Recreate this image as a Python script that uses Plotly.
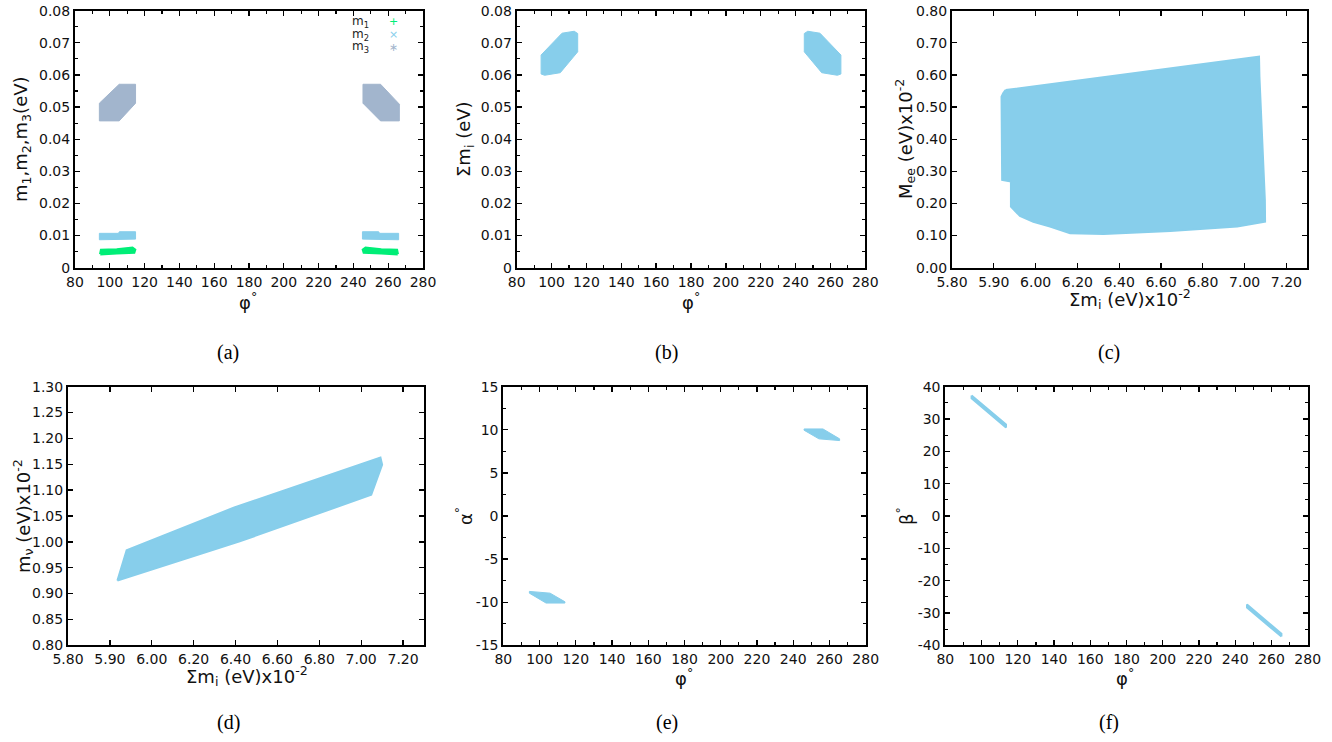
import plotly.graph_objects as go

W, H = 1332, 742

# ---------------- data (region outlines) ----------------
# (a) masses vs phi
phi_m1_left = [94.5, 95.0, 104.0, 113.0, 114.5, 114.0, 104.0, 95.0]
m1_left = [0.0042, 0.0055, 0.0057, 0.0062, 0.0056, 0.0047, 0.0045, 0.0040]
phi_m1_right = [265.5, 265.0, 256.0, 247.0, 245.5, 246.0, 256.0, 265.0]
m1_right = [0.0042, 0.0055, 0.0057, 0.0062, 0.0056, 0.0047, 0.0045, 0.0040]

phi_m2_left = [94.0, 94.0, 105.0, 105.5, 114.8, 114.8]
m2_left = [0.0087, 0.0107, 0.0107, 0.0112, 0.0112, 0.0089]
phi_m2_right = [266.0, 266.0, 255.0, 254.5, 245.2, 245.2]
m2_right = [0.0087, 0.0107, 0.0107, 0.0112, 0.0112, 0.0089]

phi_m3_left = [94.0, 94.0, 105.4, 114.8, 114.8, 105.4]
m3_left = [0.0457, 0.0512, 0.0571, 0.0571, 0.0512, 0.0457]
phi_m3_right = [245.5, 245.5, 255.6, 266.4, 266.4, 255.6]
m3_right = [0.0512, 0.0571, 0.0571, 0.0509, 0.0457, 0.0457]

# (b) sum of masses vs phi
phi_sum_left = [94.0, 94.0, 106.0, 113.0, 115.0, 115.0, 105.0, 96.0]
sum_left = [0.0603, 0.0662, 0.0730, 0.0736, 0.0729, 0.0672, 0.0607, 0.0599]
phi_sum_right = [266.0, 266.0, 254.0, 247.0, 245.0, 245.0, 255.0, 264.0]
sum_right = [0.0603, 0.0662, 0.0730, 0.0736, 0.0729, 0.0672, 0.0607, 0.0599]

# (c) Mee vs sum (x on the axis' own linear scale)
sum_c = [5.856, 7.069, 7.071, 7.076, 7.085, 7.092, 7.097, 7.098,
         6.965, 6.645, 6.325, 6.165, 6.069, 5.989, 5.925, 5.882,
         5.882, 5.840, 5.837, 5.845]
mee_c = [0.553, 0.657, 0.595, 0.522, 0.418, 0.314, 0.211, 0.143,
         0.128, 0.114, 0.105, 0.107, 0.128, 0.143, 0.161, 0.190,
         0.268, 0.273, 0.532, 0.543]

# (d) m_nu vs sum
sum_d = [5.836, 5.880, 6.391, 7.092, 7.100, 7.048, 6.420, 5.836]
mnu_d = [0.925, 0.984, 1.066, 1.163, 1.149, 1.091, 1.001, 0.925]

# (e) alpha vs phi
phi_alpha_left = [94.4, 105.8, 114.0, 114.0, 103.6, 94.4]
alpha_left = [-8.75, -8.95, -9.95, -10.1, -10.1, -8.95]
phi_alpha_right = [265.6, 254.2, 246.0, 246.0, 256.4, 265.6]
alpha_right = [8.75, 8.95, 9.95, 10.1, 10.1, 8.95]

# (f) beta vs phi
phi_beta_left = [94.5, 113.5, 113.5, 94.5]
beta_left = [37.3, 28.3, 27.4, 36.4]
phi_beta_right = [265.5, 246.5, 246.5, 265.5]
beta_right = [-37.3, -28.3, -27.4, -36.4]

# tick labels
phi_ticks = list(range(80, 281, 20))
mass_ticks = [0, 0.01, 0.02, 0.03, 0.04, 0.05, 0.06, 0.07, 0.08]
mass_ticktext = ["0", "0.01", "0.02", "0.03", "0.04", "0.05", "0.06", "0.07", "0.08"]
sum_tickvals = [5.6, 5.8, 6.0, 6.2, 6.4, 6.6, 6.8, 7.0, 7.2]
sum_ticktext = ["5.80", "5.90", "6.00", "6.20", "6.40", "6.60", "6.80", "7.00", "7.20"]
mee_ticks = [0.0, 0.1, 0.2, 0.3, 0.4, 0.5, 0.6, 0.7, 0.8]
mnu_ticks = [0.80, 0.85, 0.90, 0.95, 1.00, 1.05, 1.10, 1.15, 1.20, 1.25, 1.30]
alpha_ticks = [-15, -10, -5, 0, 5, 10, 15]
alpha_ticktext = ["-15", "-10", "-5", "0", "5", "10", "15"]
beta_ticks = [-40, -30, -20, -10, 0, 10, 20, 30, 40]
beta_ticktext = ["-40", "-30", "-20", "-10", "0", "10", "20", "30", "40"]

C_M1 = "#00ee77"
C_SKY = "#87ceeb"
C_M3 = "#a2b5cd"

# ---------------- layout geometry (pixels) ----------------
boxes = {
    1: (75.0, 423.0, 10.7, 267.7),
    2: (516.7, 865.3, 10.7, 267.7),
    3: (952.0, 1307.3, 10.7, 267.7),
    4: (68.0, 424.0, 386.7, 645.3),
    5: (503.3, 865.7, 386.7, 645.3),
    6: (945.3, 1307.7, 386.7, 645.3),
}

fig = go.Figure()


def poly(xs, ys, color, k, lw=1.0):
    fig.add_trace(go.Scatter(
        x=xs + xs[:1], y=ys + ys[:1], mode="lines", fill="toself",
        fillcolor=color, line=dict(color=color, width=lw),
        xaxis="x" if k == 1 else f"x{k}", yaxis="y" if k == 1 else f"y{k}",
        showlegend=False, hoverinfo="skip"))


poly(phi_m3_left, m3_left, C_M3, 1)
poly(phi_m3_right, m3_right, C_M3, 1)
poly(phi_m2_left, m2_left, C_SKY, 1)
poly(phi_m2_right, m2_right, C_SKY, 1)
poly(phi_m1_left, m1_left, C_M1, 1, 2.5)
poly(phi_m1_right, m1_right, C_M1, 1, 2.5)
poly(phi_sum_left, sum_left, C_SKY, 2)
poly(phi_sum_right, sum_right, C_SKY, 2)
poly(sum_c, mee_c, C_SKY, 3, 2)
poly(sum_d, mnu_d, C_SKY, 4, 2)
poly(phi_alpha_left, alpha_left, C_SKY, 5)
poly(phi_alpha_right, alpha_right, C_SKY, 5)
poly(phi_beta_left, beta_left, C_SKY, 6, 2)
poly(phi_beta_right, beta_right, C_SKY, 6, 2)

TICKFONT = dict(family="DejaVu Sans", size=14, color="#111111")


def axis(k, which, rng, tickvals, ticktext=None, minor=None):
    x0, x1, y0, y1 = boxes[k]
    d = dict(range=rng, tickmode="array", tickvals=tickvals, automargin=False,
             showline=True, linecolor="black", linewidth=2, mirror="allticks",
             ticks="inside", ticklen=5, tickwidth=1.3, tickcolor="black",
             showgrid=False, zeroline=False, tickfont=TICKFONT, fixedrange=True,
             anchor=("y" if k == 1 else f"y{k}") if which == "x" else ("x" if k == 1 else f"x{k}"))
    if ticktext is not None:
        d["ticktext"] = ticktext
    if minor is not None:
        d["minor"] = dict(dtick=minor, ticks="inside", ticklen=3, tickwidth=1.2,
                          tickcolor="black", showgrid=False, tick0=rng[0])
    if which == "x":
        d["domain"] = [x0 / W, x1 / W]
    else:
        d["domain"] = [1 - y1 / H, 1 - y0 / H]
    return d


lay = {}
def put(k, xd, yd):
    lay["xaxis" if k == 1 else f"xaxis{k}"] = xd
    lay["yaxis" if k == 1 else f"yaxis{k}"] = yd


put(1, axis(1, "x", [80, 280], phi_ticks, minor=10),
    axis(1, "y", [0, 0.08], mass_ticks, mass_ticktext, minor=0.005))
put(2, axis(2, "x", [80, 280], phi_ticks, minor=10),
    axis(2, "y", [0, 0.08], mass_ticks, mass_ticktext, minor=0.005))
put(3, axis(3, "x", [5.6, 7.3], sum_tickvals, sum_ticktext),
    axis(3, "y", [0, 0.8], mee_ticks, [f"{v:.2f}" for v in mee_ticks]))
put(4, axis(4, "x", [5.6, 7.3], sum_tickvals, sum_ticktext),
    axis(4, "y", [0.8, 1.3], mnu_ticks, [f"{v:.2f}" for v in mnu_ticks]))
put(5, axis(5, "x", [80, 280], phi_ticks, minor=10),
    axis(5, "y", [-15, 15], alpha_ticks, alpha_ticktext, minor=2.5))
put(6, axis(6, "x", [80, 280], phi_ticks, minor=10),
    axis(6, "y", [-40, 40], beta_ticks, beta_ticktext, minor=5))

TITLEFONT = dict(family="DejaVu Sans", size=18, color="#111111")
ann = []


def ptxt(text, px, py, font, angle=0, xanchor="center", yanchor="middle"):
    ann.append(dict(text=text, x=px / W, y=1 - py / H, xref="paper", yref="paper",
                    showarrow=False, font=font, textangle=angle,
                    xanchor=xanchor, yanchor=yanchor))


phi_title = "φ<sup>°</sup>"
sum_title = "Σm<sub>i</sub> (eV)x10<sup>-2</sup>"
ptxt(phi_title, 248, 301, TITLEFONT)
ptxt(phi_title, 691, 301, TITLEFONT)
ptxt(sum_title, 1130, 299, TITLEFONT)
ptxt(sum_title, 247, 676, TITLEFONT)
ptxt(phi_title, 684, 677, TITLEFONT)
ptxt(phi_title, 1125, 677, TITLEFONT)

ptxt("m<sub>1</sub>,m<sub>2</sub>,m<sub>3</sub>(eV)", 22, 139, TITLEFONT, -90)
ptxt("Σm<sub>i</sub> (eV)", 465, 139, TITLEFONT, -90)
ptxt("M<sub>ee</sub> (eV)x10<sup>-2</sup>", 905, 139, TITLEFONT, -90)
ptxt("m<sub>ν</sub> (eV)x10<sup>-2</sup>", 23, 516, TITLEFONT, -90)
ptxt("α<sup>°</sup>", 464, 516, TITLEFONT, -90)
ptxt("β<sup>°</sup>", 905, 516, TITLEFONT, -90)

CAPFONT = dict(family="Liberation Serif", size=20, color="black")
for lab, px, py in [("(a)", 228, 352), ("(b)", 667, 352), ("(c)", 1109, 352),
                    ("(d)", 228, 722), ("(e)", 667, 722), ("(f)", 1109, 722)]:
    ptxt(lab, px, py, CAPFONT)

# legend of panel (a), gnuplot style: text then symbol
LEGFONT = dict(family="DejaVu Sans", size=12, color="#222222")
legend_names = ["m<sub>1</sub>", "m<sub>2</sub>", "m<sub>3</sub>"]
legend_symbols = ["+", "×", "∗"]
legend_colors = [C_M1, C_SKY, C_M3]
for i, (nm, sym, col) in enumerate(zip(legend_names, legend_symbols, legend_colors)):
    ptxt(nm, 371, 22 + 12.6 * i, LEGFONT, xanchor="right")
    ptxt(sym, 393, 22 + 12.6 * i, dict(family="DejaVu Sans", size=11, color=col))

fig.update_layout(width=W, height=H, margin=dict(l=0, r=0, t=0, b=0, autoexpand=False),
                  paper_bgcolor="white", plot_bgcolor="white",
                  showlegend=False, annotations=ann, **lay)

fig.write_html("out.html", config={"displayModeBar": False, "staticPlot": True},
               post_script="document.body.style.margin='0';document.body.style.overflow='hidden';")
